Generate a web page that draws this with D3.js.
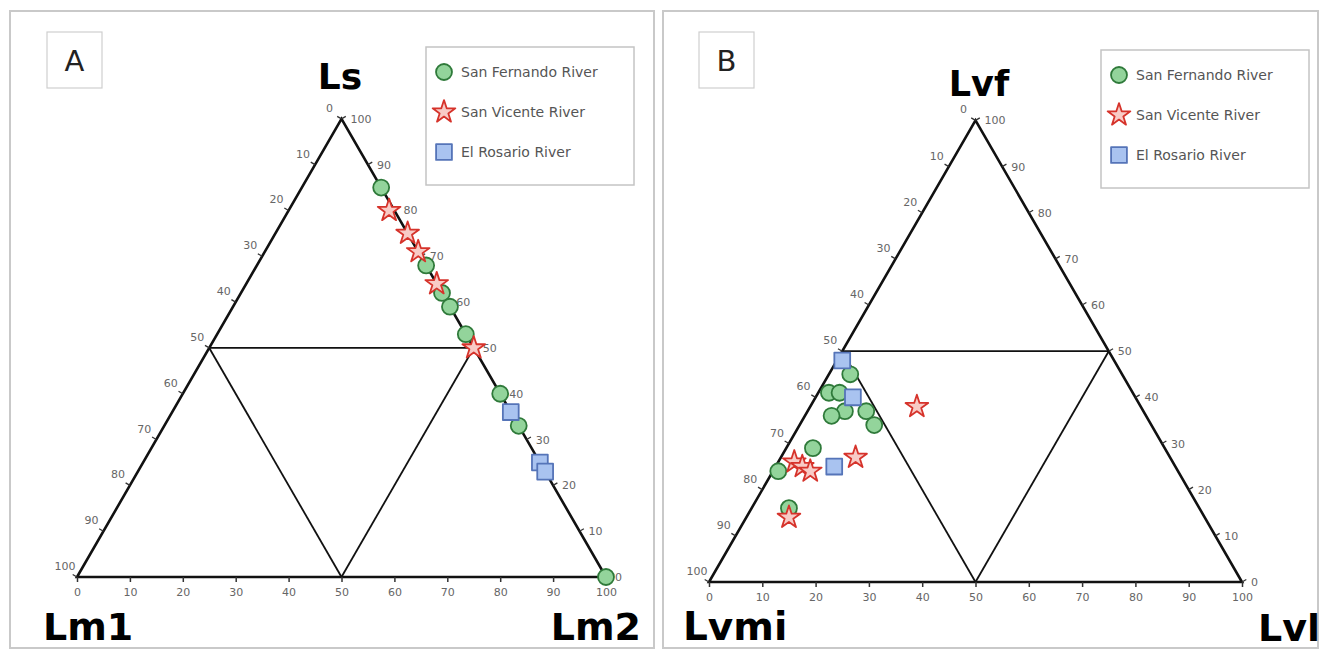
<!DOCTYPE html>
<html>
<head>
<meta charset="utf-8">
<script src="https://cdn.jsdelivr.net/npm/d3@7"></script>
<style>
  html, body { margin: 0; padding: 0; background: #fff; }
  svg { display: block; font-family: "DejaVu Sans", Verdana, sans-serif; }
</style>
</head>
<body>
<svg id="chart" width="1327" height="649"></svg>
<script>
// tick labels along every side
var tickValues = [0, 10, 20, 30, 40, 50, 60, 70, 80, 90, 100];
var seriesNames = ['San Fernando River', 'San Vicente River', 'El Rosario River'];

// Panel A: [Ls, Lm1, Lm2]
var sanFernandoA = [[85, 0, 15], [68, 0, 32], [62, 0, 38], [59, 0, 41], [53, 0, 47], [40, 0, 60], [33, 0, 67], [0, 0, 100]];
var sanVicenteA = [[80, 1, 19], [75, 0, 25], [71, 0, 29], [64, 0, 36], [50, 0, 50]];
var elRosarioA = [[36, 0, 64], [25, 0, 75], [23, 0, 77]];

// Panel B: [Lvf, Lvmi, Lvl]
var sanFernandoB = [[45, 51, 4], [41, 57, 2], [41, 55, 4], [37, 56, 7], [36, 59, 5], [37, 52, 11], [34, 52, 14], [29, 66, 5], [24, 75, 1], [16, 77, 7]];
var sanVicenteB = [[38, 42, 20], [27, 59, 14], [26, 71, 3], [25, 70, 5], [24, 69, 7], [14, 78, 8]];
var elRosarioB = [[48, 51, 1], [40, 53, 7], [25, 64, 11]];

var svg = d3.select('#chart');

var styles = [
  { type: d3.symbolCircle, size: 200, fill: '#93d49b', stroke: '#2f7a3a' },
  { type: d3.symbolStar, size: 160, fill: '#f8cbc6', stroke: '#d6332b' },
  { type: d3.symbolSquare, size: 250, fill: '#a9c3f0', stroke: '#5574b8' }
];

function drawPanel(cfg) {
  var g = svg.append('g');
  var x = d3.scaleLinear().domain([0, 100]).range([cfg.left, cfg.right]);
  var h = (cfg.right - cfg.left) * Math.sqrt(3) / 2;
  var y = d3.scaleLinear().domain([0, 100]).range([cfg.base, cfg.base - h]);
  // top component + right component -> screen
  var px = function (top, right) { return x(right + top / 2); };
  var py = function (top) { return y(top); };

  // frame of the panel
  g.append('rect')
    .attr('x', cfg.frame[0]).attr('y', cfg.frame[1])
    .attr('width', cfg.frame[2]).attr('height', cfg.frame[3])
    .attr('fill', 'none').attr('stroke', '#c9c9c9').attr('stroke-width', 2);

  // panel letter
  g.append('rect')
    .attr('x', cfg.letterBox[0]).attr('y', cfg.letterBox[1])
    .attr('width', 55).attr('height', 56)
    .attr('fill', '#fff').attr('stroke', '#cfcfcf').attr('stroke-width', 1.2);
  g.append('text')
    .attr('x', cfg.letterBox[0] + 27.5).attr('y', cfg.letterBox[1] + 39)
    .attr('text-anchor', 'middle').attr('font-size', 29).attr('fill', '#222')
    .text(cfg.letter);

  // internal division lines
  var inner = [[[50, 0], [50, 50]], [[50, 0], [0, 50]], [[0, 50], [50, 50]]];
  inner.forEach(function (seg) {
    g.append('line')
      .attr('x1', px(seg[0][0], seg[0][1])).attr('y1', py(seg[0][0]))
      .attr('x2', px(seg[1][0], seg[1][1])).attr('y2', py(seg[1][0]))
      .attr('stroke', '#111').attr('stroke-width', 1.8);
  });

  // outer triangle
  var tri = [[100, 0], [0, 0], [0, 100]];
  g.append('path')
    .attr('d', d3.line()(tri.map(function (p) { return [px(p[0], p[1]), py(p[0])]; })) + 'Z')
    .attr('fill', 'none').attr('stroke', '#111').attr('stroke-width', 2.6)
    .attr('stroke-linejoin', 'miter');

  // bottom axis
  var axis = g.append('g')
    .attr('transform', 'translate(0,' + cfg.base + ')')
    .call(d3.axisBottom(x).tickValues(tickValues).tickSize(5).tickPadding(6));
  axis.select('.domain').remove();
  axis.selectAll('line').attr('stroke', '#333').attr('stroke-width', 1.5);
  axis.selectAll('text').attr('fill', '#666').attr('font-size', 11)
    .attr('font-family', '"DejaVu Sans", sans-serif');

  // left side: 0 at apex, 100 at bottom-left
  tickValues.forEach(function (v) {
    var cx = px(100 - v, 0), cy = py(100 - v);
    g.append('line')
      .attr('x1', cx).attr('y1', cy)
      .attr('x2', cx - 4.3).attr('y2', cy - 2.5)
      .attr('stroke', '#333').attr('stroke-width', 1.3);
    g.append('text')
      .attr('x', cx - 12).attr('y', cy - 7)
      .attr('text-anchor', 'middle').attr('font-size', 11).attr('fill', '#666')
      .text(v);
  });

  // right side: 100 at apex, 0 at bottom-right
  tickValues.forEach(function (v) {
    var cx = px(v, 100 - v), cy = py(v);
    g.append('line')
      .attr('x1', cx).attr('y1', cy)
      .attr('x2', cx + 4.3).attr('y2', cy - 2.5)
      .attr('stroke', '#333').attr('stroke-width', 1.3);
    g.append('text')
      .attr('x', cx + 9).attr('y', cy + 4)
      .attr('text-anchor', 'start').attr('font-size', 11).attr('fill', '#666')
      .text(v);
  });

  // vertex titles
  cfg.titles.forEach(function (t) {
    g.append('text')
      .attr('x', t.x).attr('y', t.y)
      .attr('text-anchor', t.anchor)
      .attr('font-size', t.size).attr('font-weight', 'bold').attr('fill', '#000')
      .text(t.text);
  });

  // data points
  cfg.series.forEach(function (data, i) {
    var st = styles[i];
    g.append('g').selectAll('path')
      .data(data)
      .enter()
      .append('path')
      .attr('d', d3.symbol().type(st.type).size(st.size))
      .attr('transform', function (d) {
        return 'translate(' + px(d[0], d[2]) + ',' + py(d[0]) + ')';
      })
      .attr('fill', st.fill).attr('stroke', st.stroke).attr('stroke-width', 1.8)
      .attr('stroke-linejoin', 'round');
  });

  // legend
  var lg = g.append('g').attr('transform', 'translate(' + cfg.legend[0] + ',' + cfg.legend[1] + ')');
  lg.append('rect')
    .attr('width', 208).attr('height', 138)
    .attr('fill', '#fff').attr('stroke', '#c4c4c4').attr('stroke-width', 1.5);
  seriesNames.forEach(function (name, i) {
    var st = styles[i];
    var yy = 25 + i * 40;
    lg.append('path')
      .attr('d', d3.symbol().type(st.type).size(st.size))
      .attr('transform', 'translate(18,' + yy + ')')
      .attr('fill', st.fill).attr('stroke', st.stroke).attr('stroke-width', 1.8)
      .attr('stroke-linejoin', 'round');
    lg.append('text')
      .attr('x', 35).attr('y', yy + 5)
      .attr('font-size', 14).attr('fill', '#555')
      .text(name);
  });
}

drawPanel({
  left: 77, right: 606, base: 577,
  frame: [10, 11, 644, 637],
  letter: 'A', letterBox: [47, 32],
  legend: [426, 47],
  titles: [
    { text: 'Ls', x: 340, y: 89, anchor: 'middle', size: 36 },
    { text: 'Lm1', x: 43, y: 640, anchor: 'start', size: 38 },
    { text: 'Lm2', x: 641, y: 640, anchor: 'end', size: 38 }
  ],
  series: [sanFernandoA, sanVicenteA, elRosarioA]
});

drawPanel({
  left: 709, right: 1242, base: 582,
  frame: [663, 11, 655, 637],
  letter: 'B', letterBox: [699, 32],
  legend: [1101, 50],
  titles: [
    { text: 'Lvf', x: 979, y: 96, anchor: 'middle', size: 35 },
    { text: 'Lvmi', x: 683, y: 640, anchor: 'start', size: 39 },
    { text: 'Lvl', x: 1320, y: 641, anchor: 'end', size: 38 }
  ],
  series: [sanFernandoB, sanVicenteB, elRosarioB]
});
</script>
</body>
</html>
